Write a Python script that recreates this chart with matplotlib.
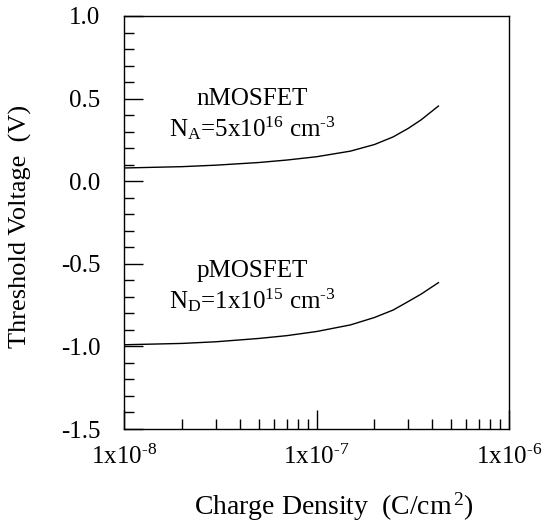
import numpy as np
import matplotlib
matplotlib.use('Agg')
import matplotlib.pyplot as plt
from matplotlib.ticker import LogLocator, FixedLocator, MultipleLocator, FuncFormatter

plt.rcParams['font.family'] = ['Liberation Serif', 'DejaVu Serif']
plt.rcParams['mathtext.fontset'] = 'custom'
plt.rcParams['mathtext.rm'] = 'Liberation Serif'
plt.rcParams['mathtext.it'] = 'Liberation Serif'
plt.rcParams['mathtext.default'] = 'regular'

# ----- data -----
charge = [1e-8, 2e-8, 3e-8, 5e-8, 7e-8, 1e-7, 1.5e-7, 2e-7, 2.5e-7, 3e-7, 3.5e-7, 4.3e-7]
vt_nmos = [0.08, 0.088, 0.097, 0.113, 0.128, 0.148, 0.182, 0.222, 0.268, 0.32, 0.372, 0.455]
vt_pmos = [-0.99, -0.982, -0.972, -0.952, -0.935, -0.91, -0.87, -0.825, -0.78, -0.728, -0.683, -0.614]

x_ticks = [1e-8, 1e-7, 1e-6]
y_ticks = [1.0, 0.5, 0.0, -0.5, -1.0, -1.5]

fig = plt.figure(figsize=(5.46, 5.26), dpi=100)
ax = fig.add_axes([124 / 546, 1 - 429 / 526, (509 - 124) / 546, (429 - 16) / 526])

ax.plot(charge, vt_nmos, color='black', lw=1.0)
ax.plot(charge, vt_pmos, color='black', lw=1.0)

ax.set_xscale('log')
ax.set_xlim(1e-8, 1e-6)
ax.set_ylim(-1.5, 1.0)

ax.xaxis.set_major_locator(FixedLocator(x_ticks))
ax.xaxis.set_minor_locator(LogLocator(base=10, subs=np.arange(2, 10)))
ax.xaxis.set_major_formatter(FuncFormatter(
    lambda v, p: r'1x10$^{\text{%d}}$' % round(np.log10(v))))
ax.yaxis.set_major_locator(FixedLocator(y_ticks))
ax.yaxis.set_minor_locator(MultipleLocator(0.1))
ax.yaxis.set_major_formatter(FuncFormatter(lambda v, p: '%.1f' % v))

ax.tick_params(which='both', direction='in', top=False, right=False, labelsize=18, width=1)
ax.tick_params(which='major', length=14)
ax.tick_params(which='minor', length=7)
ax.tick_params(axis='x', pad=11)
ax.tick_params(axis='y', pad=17)
for s in ax.spines.values():
    s.set_linewidth(1.0)

ax.set_xlabel(r'Charge Density  (C/cm$^{\,2}$)', fontsize=20)
ax.xaxis.set_label_coords(0.545, -0.148)
ax.set_ylabel('Threshold Voltage  (V)', fontsize=19)
ax.yaxis.set_label_coords(-0.239, 0.49)

ax.text(252 / 546, 1 - 99 / 526, 'nMOSFET', transform=fig.transFigure,
        ha='center', va='center', fontsize=18)
ax.text(252 / 546, 1 - 128 / 526, r'N$_A$=5x10$^{16}$ cm$^{\text{-3}}$', transform=fig.transFigure,
        ha='center', va='center', fontsize=18)
ax.text(252 / 546, 1 - 271 / 526, 'pMOSFET', transform=fig.transFigure,
        ha='center', va='center', fontsize=18)
ax.text(252 / 546, 1 - 300 / 526, r'N$_D$=1x10$^{15}$ cm$^{\text{-3}}$', transform=fig.transFigure,
        ha='center', va='center', fontsize=18)

fig.savefig('out.png', dpi=100)
